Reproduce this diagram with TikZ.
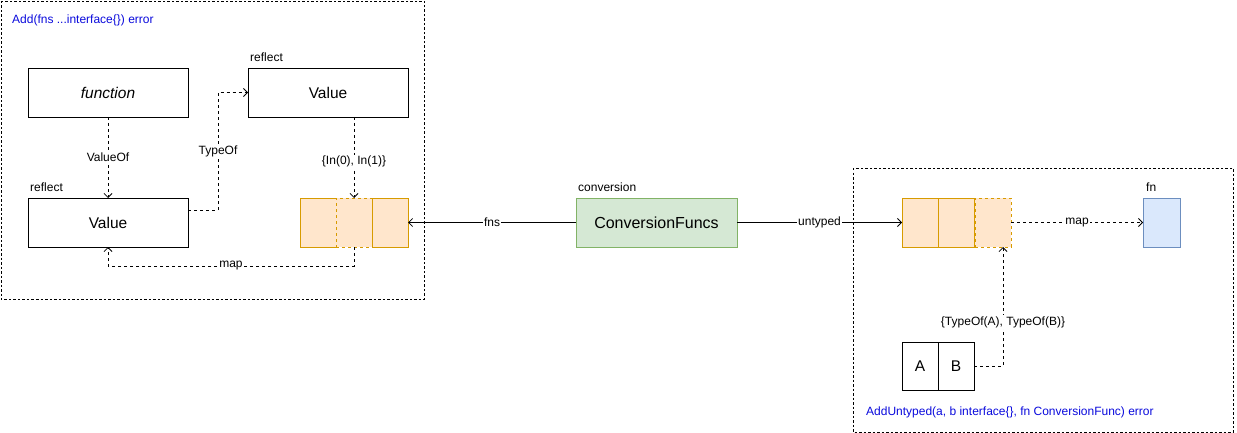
\documentclass[tikz,border=0pt]{standalone}
\usepackage{fontspec}
\setmainfont{Liberation Sans}
\usetikzlibrary{arrows.meta}
\definecolor{orfill}{HTML}{FFE6CC}
\definecolor{ordraw}{HTML}{D79B00}
\definecolor{grfill}{HTML}{D5E8D4}
\definecolor{grdraw}{HTML}{82B366}
\definecolor{blfill}{HTML}{DAE8FC}
\definecolor{bldraw}{HTML}{6C8EBF}
\definecolor{ttlblue}{RGB}{10,10,220}
\newcommand\dgsmall{\fontsize{12}{14}\selectfont}
\newcommand\dgbig{\fontsize{15.5}{18}\selectfont}
\tikzset{
  box/.style={draw=black, line width=0.9pt, fill=white, inner sep=0pt, outer sep=0pt, font=\dgbig},
  cellor/.style={draw=ordraw, fill=orfill, line width=0.9pt, minimum width=36pt, minimum height=49pt, inner sep=0pt, outer sep=0pt},
  frame/.style={draw=black, line width=0.7pt, dash pattern=on 2.5pt off 2pt},
  dar/.style={draw=black, line width=0.8pt, dash pattern=on 3pt off 3pt, -{Straight Barb[length=4pt,width=8pt]}},
  sar/.style={draw=black, line width=0.8pt, -{Straight Barb[length=4pt,width=8pt]}},
  lbl/.style={font=\dgsmall, inner sep=1pt},
  elbl/.style={font=\dgsmall, fill=white, inner sep=1pt},
  ttl/.style={font=\dgsmall, text=ttlblue, inner sep=0pt, anchor=west}
}
\begin{document}
\begin{tikzpicture}[x=1pt,y=-1pt]
\useasboundingbox (0,0) rectangle (1237,433);
% frames
\draw[frame] (1,1) rectangle (424,299);
\draw[frame] (853,168) rectangle (1233,432);
\node[ttl] (t1) at (12,20) {Add(fns ...interface\{\}) error};
\node[ttl] (t2) at (866,412) {AddUntyped(a, b interface\{\}, fn ConversionFunc) error};
% left boxes
\node[box, minimum width=160pt, minimum height=49pt] (func) at (108,92.5) {\itshape function};
\node[box, minimum width=160pt, minimum height=49pt] (val2) at (328,92.5) {Value};
\node[box, minimum width=160pt, minimum height=49pt] (val1) at (108,222.5) {Value};
\node[lbl, anchor=west] (r1) at (249,57) {reflect};
\node[lbl, anchor=west] (r2) at (29,187) {reflect};
% left array
\node[cellor] (a1) at (318,222.5) {};
\node[cellor, dash pattern=on 3pt off 3pt] (a2) at (354,222.5) {};
\node[cellor] (a3) at (390,222.5) {};
% conversion
\node[box, draw=grdraw, fill=grfill, minimum width=161pt, minimum height=49pt, font=\fontsize{16}{19}\selectfont] (conv) at (656.5,222.5) {ConversionFuncs};
\node[lbl, anchor=west] (cl) at (577,187) {conversion};
% right array
\node[cellor, dash pattern=on 3pt off 3pt] (b3) at (993,222.5) {};
\node[cellor] (b1) at (920,222.5) {};
\node[cellor] (b2) at (956.5,222.5) {};
% fn
\node[box, draw=bldraw, fill=blfill, minimum width=37pt, minimum height=49pt] (fn) at (1161.5,222.5) {};
\node[lbl, anchor=west] (fl) at (1145,187) {fn};
% A B
\node[box, minimum width=36pt, minimum height=48pt] (ca) at (920,366) {A};
\node[box, minimum width=36pt, minimum height=48pt] (cb) at (956,366) {B};
% connectors
\draw[dar] (func.south) -- node[elbl, pos=0.5]{ValueOf} (val1.north);
\coordinate (tc) at (218,210);
\draw[dar] (val1.east |- tc) -- (tc) -- node[elbl, pos=0.5]{TypeOf} (tc |- val2.west) -- (val2.west);
\draw[dar] (a2.north |- val2.south) -- node[elbl, pos=0.55]{\{In(0), In(1)\}} (a2.north);
\draw[dar] (a2.south) -- ++(0,19) -| node[elbl, pos=0.25]{map} (val1.south);
\draw[sar] (conv.west) -- node[elbl]{fns} (a3.east);
\draw[sar] (conv.east) -- node[elbl]{untyped} (b1.west);
\draw[dar] (b3.east) -- node[elbl]{map} (fn.west);
\draw[dar] (cb.east) -| node[elbl, pos=0.685]{\{TypeOf(A), TypeOf(B)\}} ([xshift=10pt]b3.south);
\end{tikzpicture}
\end{document}
